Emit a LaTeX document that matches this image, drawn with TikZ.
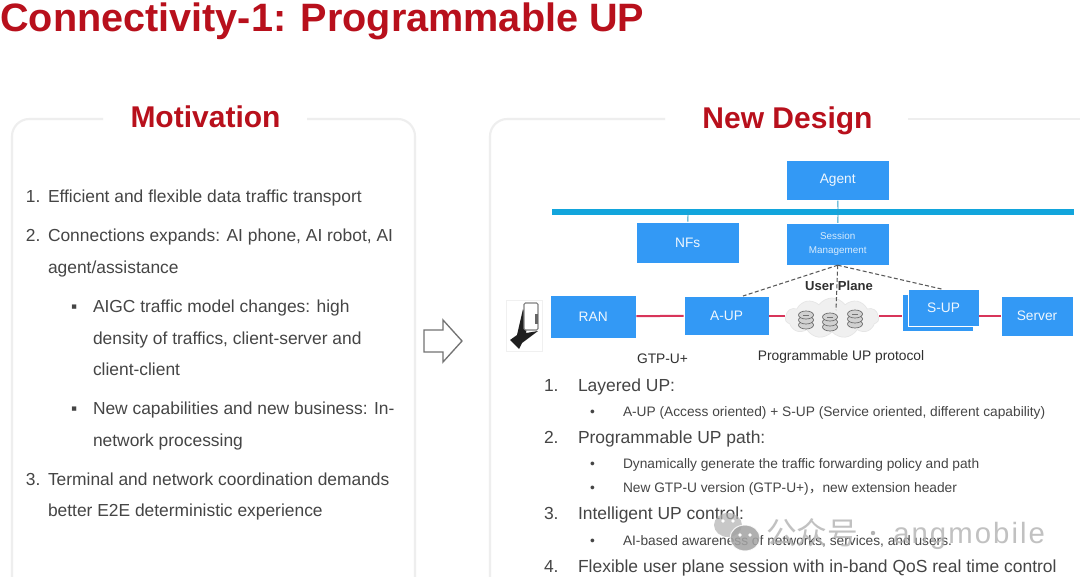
\documentclass[tikz,border=0pt]{standalone}
\usepackage{fontspec}
\setmainfont{Liberation Sans}
\newfontfamily\cjkfont{Noto Sans CJK SC}
\newfontfamily\wmfont[LetterSpace=7]{Liberation Sans}
\usetikzlibrary{shapes.symbols,shapes.geometric}
\definecolor{ttl}{HTML}{B8101C}
\definecolor{bodyc}{HTML}{454545}
\definecolor{blu}{HTML}{3399F5}
\definecolor{barc}{HTML}{12A5DC}
\definecolor{frm}{HTML}{EEEEEE}
\definecolor{redl}{HTML}{D8355A}
\tikzset{
  x=0.75pt,y=-0.75pt,
  txt/.style={anchor=base west,inner sep=0pt,outer sep=0pt,text=bodyc},
  bigt/.style={txt,font=\fontsize{13.05}{14}\selectfont},
  midt/.style={txt,font=\fontsize{13.1}{14}\selectfont},
  subt/.style={txt,font=\fontsize{10.3}{12}\selectfont},
  head/.style={anchor=base,inner sep=0pt,text=ttl,font=\bfseries\fontsize{22.5}{26}\selectfont},
  bx/.style={fill=blu,draw=white,line width=0.3pt,inner sep=0pt,text=white!92!blu,font=\fontsize{10.3}{12}\selectfont},
  lbl/.style={inner sep=0pt,text=bodyc!70!black,font=\fontsize{10.35}{12}\selectfont},
  redln/.style={draw=redl,line width=1.5pt},
  dsh/.style={draw=black!65,dash pattern=on 3pt off 1.8pt,line width=0.8pt},
  thinln/.style={draw=barc!80!gray,line width=0.7pt},
  wmark/.style={text=black!30,inner sep=0pt,anchor=base west},
  dbi/.pic={
    \foreach \k in {5,0,-5}{
      \draw[black!60,fill=black!18,line width=0.5pt] (0,\k) ellipse (7.5 and 4);
    }
    \draw[black!55,line width=0.5pt] (-3,-5) -- (3,-5);
  }
}
\begin{document}
\begin{tikzpicture}
\useasboundingbox (0,0) rectangle (1080,577);
\fill[white] (0,0) rectangle (1080,577);
% title
\node[anchor=base west,inner sep=0pt,text=ttl,font=\bfseries\fontsize{29.7}{34}\selectfont] (title) at (0,32) {Connectivity-1: Programmable UP};
% frames
\draw[frm,line width=1.6pt,rounded corners=13pt] (103,119) -- (12,119) -- (12,577);
\draw[frm,line width=1.6pt,rounded corners=13pt] (307,119) -- (415,119) -- (415,577);
\draw[frm,line width=1.6pt,rounded corners=13pt] (665,119) -- (490,119) -- (490,577);
\draw[frm,line width=1.6pt] (908,119) -- (1080,119);
\node[head] (mot) at (205.5,128) {Motivation};
\node[head] (nd) at (787.5,128.5) {New Design};
% left text
\node[bigt] (l1n) at (26,203) {1.};
\node[bigt] (l1) at (48,203) {Efficient and flexible data traffic transport};
\node[bigt] (l2n) at (26,242) {2.};
\node[bigt] (l2) at (48,242) {Connections expands: AI phone, AI robot, AI};
\node[bigt] (l3) at (48,273) {agent/assistance};
\node[bigt] (b1) at (71,312) {▪};
\node[bigt] (l4) at (93,312) {AIGC traffic model changes: high};
\node[bigt] (l5) at (93,344) {density of traffics, client-server and};
\node[bigt] (l6) at (93,375) {client-client};
\node[bigt] (b2) at (71,414) {▪};
\node[bigt] (l7) at (93,414) {New capabilities and new business: In-};
\node[bigt] (l8) at (93,446) {network processing};
\node[bigt] (l9n) at (26,485) {3.};
\node[bigt] (l9) at (48,485) {Terminal and network coordination demands};
\node[bigt] (l10) at (48,516) {better E2E deterministic experience};
% block arrow
\draw[black!55,fill=white,line width=1pt,line join=miter] (424,330) -- (443,330) -- (443,320) -- (462,341) -- (443,362) -- (443,352) -- (424,352) -- cycle;
% bar and boxes
\fill[barc] (552,209) rectangle (1074,215);
\coordinate (barA) at (838,212);
\coordinate (barN) at (688,212);
\node[bx,minimum width=76.8pt,minimum height=30pt] (agent) at (837.7,180.5) {Agent};
\node[bx,minimum width=76.8pt,minimum height=31pt] (nfs) at (687.7,242.5) {NFs};
\node[bx,minimum width=76.8pt,minimum height=31.5pt,align=center,font=\fontsize{7.4}{10}\selectfont,text=white!80!blu] (sm) at (837.7,244) {Session\\Management};
\node[bx,minimum width=64.5pt,minimum height=32pt] (ran) at (593.2,316.5) {RAN};
\node[bx,minimum width=64pt,minimum height=29.5pt] (aup) at (726.5,315.5) {A-UP};
\node[bx,minimum width=53.5pt,minimum height=27.5pt] (sback) at (938,312.5) {};
\node[bx,minimum width=53.5pt,minimum height=27.5pt] (sup) at (943.5,308) {S-UP};
\node[bx,minimum width=54pt,minimum height=30pt] (srv) at (1037,316) {Server};
\node[cloud,cloud puffs=11,cloud puff arc=110,aspect=2.4,draw=black!10,fill=black!6,line width=0.5pt,minimum width=70pt,minimum height=30pt,inner sep=0pt] (cld) at (832,318) {};
\pic at (806,320) {dbi};
\pic at (830,322) {dbi};
\pic at (855,319) {dbi};
\coordinate (dshend) at (836,310);
\coordinate (aupt) at (743,296);
% connectors
\draw[thinln] (agent) -- (barA);
\draw[thinln] (barA) -- (sm);
\draw[thinln] (barN) -- (nfs);
\draw[redln] (ran) -- (aup);
\draw[redln] (aup.east) -- (aup.east-|cld.west);
\draw[redln] (aup.east-|cld.east) -- (aup.east-|sback.west);
\draw[redln] (sup.east|-srv.west) -- (srv.west);
\draw[dsh] (sm.south) -- (aupt);
\draw[dsh] (sm.south) -- (sup.north);
\draw[dsh] (sm.south) -- (dshend);
% labels
\node[lbl,font=\bfseries\fontsize{9.8}{12}\selectfont] (up) at (839,286) {User Plane};
\node[lbl,anchor=base] (gtp) at (662.5,363) {GTP-U+};
\node[lbl,anchor=base] (ppp) at (841,360) {Programmable UP protocol};
% phone
\node[draw=black!6,minimum width=27pt,minimum height=38pt,inner sep=0pt] (ph) at (524,326) {};
\fill[black!88] (523,309) -- (528,320) -- (526,333) -- (538,331) -- (530,337) -- (522,343) -- (519,349) -- (510,340) -- (517,335) -- cycle;
\draw[black!50,fill=white,line width=0.8pt,rounded corners=1pt] (524,303) rectangle (538,330);
\fill[black!60] (535,314) rectangle (538,324);
% right text
\node[midt] (r1n) at (544,391) {1.};
\node[midt] (r1) at (578,391) {Layered UP:};
\node[subt] (b3) at (590,416) {•};
\node[subt] (r2) at (623,416) {A-UP (Access oriented) + S-UP (Service oriented, different capability)};
\node[midt] (r3n) at (544,443) {2.};
\node[midt] (r3) at (578,443) {Programmable UP path:};
\node[subt] (b4) at (590,468) {•};
\node[subt] (r4) at (623,468) {Dynamically generate the traffic forwarding policy and path};
\node[subt] (b5) at (590,492) {•};
\node[subt] (r5) at (623,492) {New GTP-U version (GTP-U+){\cjkfont ，}new extension header};
\node[midt] (r6n) at (544,519) {3.};
\node[midt] (r6) at (578,519) {Intelligent UP control:};
\node[subt] (b6) at (590,545) {•};
\node[subt] (r7) at (623,545) {AI-based awareness of networks, services, and users.};
\node[midt] (r8n) at (544,572) {4.};
\node[midt] (r8) at (578,572) {Flexible user plane session with in-band QoS real time control};
% watermark
\fill[black!30,opacity=.7] (728,525) ellipse (14 and 12);
\fill[black!36,draw=white,line width=0.8pt,opacity=.85] (745,538) ellipse (15 and 13);
\foreach \p in {(723,521),(733,521),(740,535),(750,535)}{\fill[white] \p circle (1.8);}
\node[wmark,font=\cjkfont\fontsize{23}{26}\selectfont,opacity=.8] (wm1) at (766,544) {公众号};
\fill[black!30] (873,533) circle (2.2);
\node[wmark,font=\wmfont\fontsize{22}{26}\selectfont,opacity=.8] (wm3) at (893,543) {angmobile};
\end{tikzpicture}
\end{document}
